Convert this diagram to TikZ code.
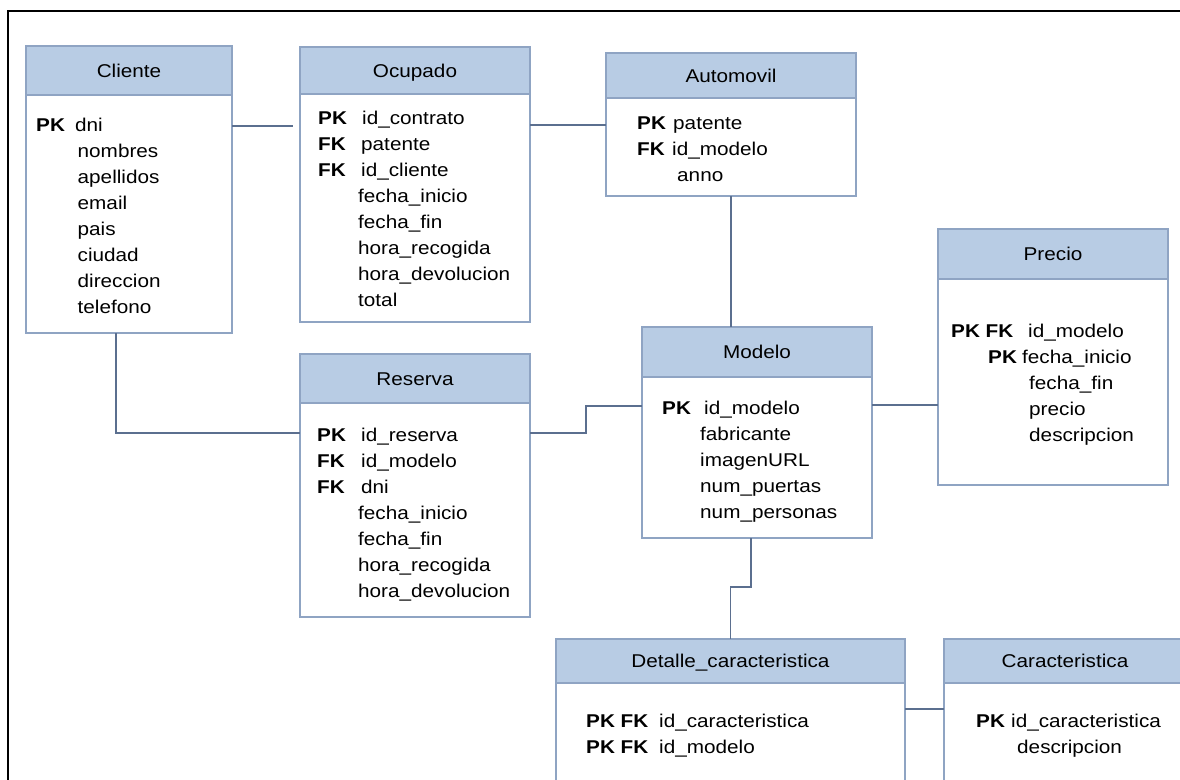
\documentclass[tikz,border=0pt]{standalone}
\usepackage{fontspec}
\setmainfont[FakeStretch=1.12]{Liberation Sans}
\definecolor{hdrfill}{HTML}{B8CCE4}
\definecolor{boxline}{HTML}{8FA4C3}
\definecolor{connline}{HTML}{5B6F8F}
\tikzset{
  hdr/.style={draw=boxline, fill=hdrfill, line width=1.3, inner sep=0, outer sep=0},
  bodybox/.style={draw=boxline, fill=white, line width=1.3, inner sep=0, outer sep=0},
  ttl/.style={inner sep=0, anchor=base, font=\fontsize{18.5}{22}\selectfont},
  attr/.style={inner sep=0, anchor=base west, font=\fontsize{18.5}{22}\selectfont},
  key/.style={attr, font=\fontsize{18.5}{22}\selectfont\bfseries},
  conn/.style={draw=connline, line width=1.8},
}
% entity table: name, left, top, right, header bottom, bottom, title
\newcommand\entbox[7]{%
  \node[hdr, anchor=north west, minimum width={#4-#2}, minimum height={#5-#3}] (#1-h) at (#2,#3) {};
  \node[bodybox, anchor=north west, minimum width={#4-#2}, minimum height={#6-#5}] (#1) at (#2,#5) {};
  \node[ttl] (#1-t) at ({(#2+#4)/2},{(#3+#5)/2+6.8}) {#7};
}
\begin{document}
\begin{tikzpicture}[x=1pt,y=-1pt]
\useasboundingbox (0,0) rectangle (1180,779);
\clip (0,0) rectangle (1180,779);
\fill[white] (0,0) rectangle (1180,779);

% tables
\entbox{cli}{26}{46}{232}{95}{333}{Cliente}
\entbox{ocu}{300}{47}{530}{94}{322}{Ocupado}
\entbox{aut}{606}{53}{856}{98}{196}{Automovil}
\entbox{pre}{938}{229}{1168}{279}{485}{Precio}
\entbox{mod}{642}{327}{872}{377}{538}{Modelo}
\entbox{res}{300}{354}{530}{403}{617}{Reserva}
\entbox{det}{556}{639}{905}{683}{820}{Detalle\_caracteristica}
\entbox{car}{944}{639}{1186}{683}{820}{Caracteristica}

% Cliente
\node[key] (cli-k1) at (36,131) {PK};
\node[attr] (cli-a0) at (75,131) {dni};
\foreach \t [count=\i] in {nombres,apellidos,email,pais,ciudad,direccion,telefono}
  \node[attr] (cli-a\i) at (77.5,{131+26*\i}) {\t};

% Ocupado
\node[key] (ocu-k1) at (318,124) {PK};
\node[key] (ocu-k2) at (318,150) {FK};
\node[key] (ocu-k3) at (318,176) {FK};
\node[attr] (ocu-a1) at (362,124) {id\_contrato};
\node[attr] (ocu-a2) at (361,150) {patente};
\node[attr] (ocu-a3) at (361,176) {id\_cliente};
\foreach \t [count=\i] in {fecha\_inicio,fecha\_fin,hora\_recogida,hora\_devolucion,total}
  \node[attr] (ocu-b\i) at (358,{176+26*\i}) {\t};

% Automovil
\node[key] (aut-k1) at (637,129) {PK};
\node[key] (aut-k2) at (637,155) {FK};
\node[attr] (aut-a1) at (673,129) {patente};
\node[attr] (aut-a2) at (672,155) {id\_modelo};
\node[attr] (aut-a3) at (677,181) {anno};

% Modelo
\node[key] (mod-k1) at (662,414) {PK};
\node[attr] (mod-a1) at (704,414) {id\_modelo};
\foreach \t [count=\i] in {fabricante,imagenURL,num\_puertas,num\_personas}
  \node[attr] (mod-b\i) at (700,{414+26*\i}) {\t};

% Reserva
\node[key] (res-k1) at (317,441) {PK};
\node[key] (res-k2) at (317,467) {FK};
\node[key] (res-k3) at (317,493) {FK};
\node[attr] (res-a1) at (361,441) {id\_reserva};
\node[attr] (res-a2) at (361,467) {id\_modelo};
\node[attr] (res-a3) at (361,493) {dni};
\foreach \t [count=\i] in {fecha\_inicio,fecha\_fin,hora\_recogida,hora\_devolucion}
  \node[attr] (res-b\i) at (358,{493+26*\i}) {\t};

% Precio
\node[key] (pre-k1) at (951,337) {PK FK};
\node[key] (pre-k2) at (988,363) {PK};
\node[attr] (pre-a1) at (1028,337) {id\_modelo};
\node[attr] (pre-a2) at (1022,363) {fecha\_inicio};
\foreach \t [count=\i] in {fecha\_fin,precio,descripcion}
  \node[attr] (pre-b\i) at (1029,{363+26*\i}) {\t};

% Detalle_caracteristica
\node[key] (det-k1) at (586,727) {PK FK};
\node[key] (det-k2) at (586,753) {PK FK};
\node[attr] (det-a1) at (659,727) {id\_caracteristica};
\node[attr] (det-a2) at (659,753) {id\_modelo};

% Caracteristica
\node[key] (car-k1) at (976,727) {PK};
\node[attr] (car-a1) at (1011,727) {id\_caracteristica};
\node[attr] (car-a2) at (1017,753) {descripcion};

% connector routing points
\coordinate (ocuGap) at (293,126);
\coordinate (rowA) at (0,125);
\coordinate (cliDown) at (116,433);
\coordinate (resStep) at (586,433);
\coordinate (modRow) at (586,406);
\coordinate (preRow) at (0,405);
\coordinate (detStep) at (751,587);
\coordinate (detRow) at (0,709);

% connectors
\draw[conn] (ocuGap -| cli.east) -- (ocuGap);
\draw[conn] (ocu.east |- rowA) -- (aut.west |- rowA);
\draw[conn] (aut.south) -- (aut.south |- mod-h.north);
\draw[conn] (cli.south -| cliDown) -- (cliDown) -- (res.west |- cliDown);
\draw[conn] (res.east |- resStep) -- (resStep) -- (modRow) -- (mod.west |- modRow);
\draw[conn] (mod.east |- preRow) -- (pre.west |- preRow);
\draw[conn] (mod.south -| detStep) -- (detStep) -| (det-h.north);
\draw[conn] (det.east |- detRow) -- (car.west |- detRow);

% outer frame
\draw[black, line width=2] (7.7,790) -- (7.7,11) -- (1190,11);
\end{tikzpicture}
\end{document}
